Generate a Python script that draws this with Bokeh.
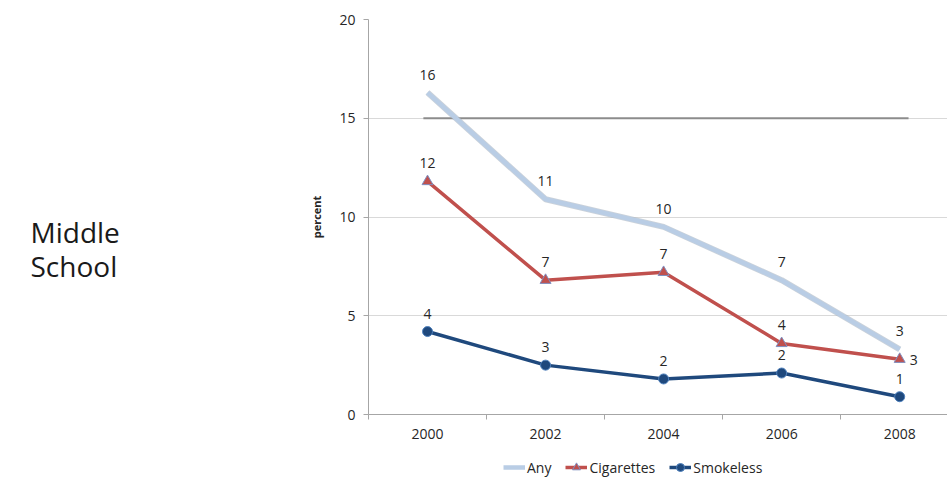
from bokeh.plotting import figure
from bokeh.models import (ColumnDataSource, LabelSet, Legend, LegendItem,
                          FixedTicker, Range1d)
from bokeh.layouts import row, column
from bokeh.core.properties import value
from bokeh.embed import file_html
from bokeh.resources import INLINE

# ---- data ----
years = [2000, 2002, 2004, 2006, 2008]
any_use = [16.3, 10.9, 9.5, 6.8, 3.3]
cigarettes = [11.8, 6.8, 7.2, 3.6, 2.8]
smokeless = [4.2, 2.5, 1.8, 2.1, 0.9]
y_ticks = [0, 5, 10, 15, 20]
target_value = 15
series_names = ["Any", "Cigarettes", "Smokeless"]
side_title = ["Middle", "School"]
y_label = "percent"


def lab(v):
    return str(int(v + 0.5))


FONT = "Open Sans"
TXT = "#262626"

W, H = 947, 481
SIDE_W = 300
MAIN_H = 449
LEG_H = H - MAIN_H
x0, x1 = years[0] - 1, years[-1] + 0.81
y0, y1 = y_ticks[0], y_ticks[-1]

src_any = ColumnDataSource(dict(x=years, y=any_use, t=[lab(v) for v in any_use]))
src_cig = ColumnDataSource(dict(x=years, y=cigarettes, t=[lab(v) for v in cigarettes]))
src_smk = ColumnDataSource(dict(x=years, y=smokeless, t=[lab(v) for v in smokeless]))

# ---------------- main chart ----------------
p = figure(width=W - SIDE_W, height=MAIN_H, output_backend="svg", toolbar_location=None,
           x_range=Range1d(x0, x1), y_range=Range1d(y0, y1),
           min_border_left=68, min_border_right=0, min_border_top=19,
           min_border_bottom=MAIN_H - 414)
p.outline_line_color = None
p.background_fill_color = "white"
p.border_fill_color = "white"

p.xaxis.ticker = FixedTicker(ticks=years, minor_ticks=[y - 1 for y in years])
p.xaxis.major_tick_line_color = None
p.xaxis.major_tick_out = 0
p.xaxis.major_tick_in = 0
p.xaxis.minor_tick_out = 5
p.xaxis.minor_tick_in = 0
p.xaxis.minor_tick_line_color = "#a6a6a6"
p.xaxis.axis_line_color = "#a6a6a6"
p.xaxis.major_label_standoff = 9
p.xgrid.grid_line_color = None

p.yaxis.ticker = FixedTicker(ticks=y_ticks)
p.yaxis.minor_tick_line_color = None
p.yaxis.major_tick_out = 5
p.yaxis.major_tick_in = 0
p.yaxis.major_tick_line_color = "#a6a6a6"
p.yaxis.axis_line_color = "#a6a6a6"
p.yaxis.major_label_standoff = 8
p.yaxis.axis_label = y_label
p.yaxis.axis_label_text_font = FONT
p.yaxis.axis_label_text_font_style = "bold"
p.yaxis.axis_label_text_font_size = "11px"
p.yaxis.axis_label_text_color = TXT
p.yaxis.axis_label_standoff = 12
p.ygrid.grid_line_color = "#d9d9d9"
p.ygrid.grid_line_width = 1

for ax in (p.xaxis, p.yaxis):
    ax.major_label_text_font = FONT
    ax.major_label_text_font_size = "14px"
    ax.major_label_text_color = TXT

# target line
p.line([years[0] - 0.07, years[-1] + 0.15], [target_value, target_value],
       line_color="#8c8c8c", line_width=2)


def draw_series(fig, shadow=True):
    if shadow:
        fig.line("x", "y", source=src_any, line_color="#a9b4c2", line_width=6, line_alpha=0.6)
    ra = fig.line("x", "y", source=src_any, line_color="#b9cde5", line_width=4.5)
    rc = fig.line("x", "y", source=src_cig, line_color="#c0504d", line_width=3.5)
    rcm = fig.scatter("x", "y", source=src_cig, marker="triangle", size=11,
                      fill_color="#c0504d", line_color="#7f8fc0", line_width=1)
    rs = fig.line("x", "y", source=src_smk, line_color="#1f497d", line_width=3.5)
    rsm = fig.scatter("x", "y", source=src_smk, marker="circle", size=10,
                      fill_color="#1f497d", line_color="#4f81bd", line_width=1)
    return ra, rc, rcm, rs, rsm


draw_series(p)

common = dict(x="x", y="y", text="t", text_font_size="14px", text_color=TXT,
              text_align="center", text_baseline="middle", text_font=value(FONT))
p.add_layout(LabelSet(source=src_any, y_offset=18, **common))
src_cig_a = ColumnDataSource(dict(x=years[:-1], y=cigarettes[:-1], t=[lab(v) for v in cigarettes[:-1]]))
src_cig_b = ColumnDataSource(dict(x=years[-1:], y=cigarettes[-1:], t=[lab(v) for v in cigarettes[-1:]]))
p.add_layout(LabelSet(source=src_cig_a, y_offset=18, **common))
p.add_layout(LabelSet(source=src_cig_b, x_offset=14, y_offset=-1, **common))
p.add_layout(LabelSet(source=src_smk, y_offset=18, **common))

# ---------------- legend strip ----------------
lf = figure(width=W - SIDE_W, height=LEG_H, output_backend="svg", toolbar_location=None,
            x_range=Range1d(0, 1), y_range=Range1d(0, 1),
            min_border_left=0, min_border_right=0, min_border_top=0, min_border_bottom=0)
lf.axis.visible = False
lf.grid.visible = False
lf.outline_line_color = None
ra, rc, rcm, rs, rsm = draw_series(lf, shadow=False)
legend = Legend(items=[
    LegendItem(label=series_names[0], renderers=[ra]),
    LegendItem(label=series_names[1], renderers=[rc, rcm]),
    LegendItem(label=series_names[2], renderers=[rs, rsm]),
], orientation="horizontal", location=(135, 4), label_text_font=FONT,
    label_text_font_size="14px", label_text_color=TXT, glyph_width=22,
    label_standoff=2, spacing=14, border_line_color=None, padding=2, margin=0,
    background_fill_alpha=0)
lf.add_layout(legend)

# ---------------- side title ----------------
sf = figure(width=SIDE_W, height=H, output_backend="svg", toolbar_location=None,
            x_range=Range1d(0, SIDE_W), y_range=Range1d(0, H),
            min_border_left=0, min_border_right=0, min_border_top=0, min_border_bottom=0)
sf.axis.visible = False
sf.grid.visible = False
sf.outline_line_color = None
side_src = ColumnDataSource(dict(x=[30] * len(side_title),
                                 y=[H - 231 - 34 * i for i in range(len(side_title))],
                                 t=side_title))
sf.text("x", "y", text="t", source=side_src, text_font=value(FONT), text_font_size="28px",
        text_color="#1a1a1a", text_baseline="alphabetic", text_align="left")

layout = row(sf, column(p, lf, spacing=0), spacing=0)
open("out.html", "w").write(file_html(layout, INLINE))
